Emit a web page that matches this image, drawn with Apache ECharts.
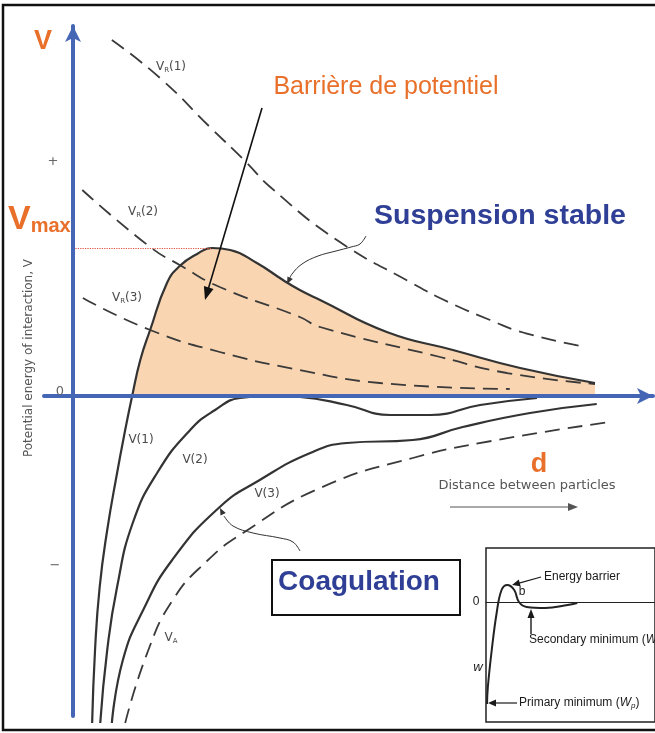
<!DOCTYPE html>
<html>
<head>
<meta charset="utf-8">
<script src="https://cdn.jsdelivr.net/npm/echarts@6/dist/echarts.min.js"></script>
<style>
  html, body { margin: 0; padding: 0; background: #fff; }
  #c { width: 655px; height: 733px; }
</style>
</head>
<body>
<div id="c"></div>
<script>
// DLVO interaction energy vs. particle separation.
// x = distance d (arbitrary units), y = potential energy V (arbitrary units)

// Repulsive terms V_R(1..3) (dashed)
const vR1 = [[6.7,35.6],[15.0,31.8],[23.6,26.9],[30.0,23.3],[34.0,20.9],[45.5,15.6],[58.4,11.3],[64.7,9.4],[71.9,7.6],[77.9,6.3],[88.3,4.9]];
const vR2 = [[1.6,20.6],[13.3,14.9],[18.4,13.1],[25.3,10.9],[39.1,7.9],[42.6,6.9],[63.3,3.9],[74.8,2.3],[90.0,1.2]];
const vR3 = [[1.7,9.8],[13.3,6.6],[25.3,4.4],[39.1,2.6],[52.9,1.3],[75.3,0.7]];

// Attractive term V_A (dashed)
const vA = [[9.0,-32.7],[12.8,-25.7],[17.2,-20.4],[23.1,-16.5],[29.3,-13.7],[42.6,-9.2],[58.6,-6.2],[73.1,-4.4],[92.6,-2.6]];

// Total energies V(1..3) (solid)
const v1 = [[3.3,-32.7],[3.8,-25.4],[4.6,-19.1],[5.9,-13.4],[7.6,-7.7],[9.0,-3.4],[10.2,0],[11.6,3.6],[13.3,6.6],[16.2,11.3],[18.4,13.0],[21.4,14.2],[24.0,14.8],[27.1,14.6],[31.7,13.3],[36.2,11.6],[39.1,10.6],[42.6,9.6],[54.1,6.4],[65.5,4.6],[77.1,2.8],[90.0,1.3]];
const v2 = [[4.7,-32.7],[5.9,-25.4],[7.6,-19.1],[10.3,-12.7],[14.5,-7.7],[20.2,-3.4],[24.5,-1.4],[28.8,-0.2],[34.0,0],[39.1,-0.1],[47.2,-0.9],[54.7,-1.9],[61.6,-1.9],[70.2,-0.9],[80.0,-0.2]];
const v3 = [[6.7,-32.7],[8.6,-26.4],[12.1,-21.4],[17.1,-16.4],[25.3,-11.1],[32.2,-8.4],[40.9,-5.7],[47.2,-4.7],[58.6,-4.4],[67.2,-3.1],[78.8,-1.7],[90.3,-0.8]];

// Sign marks on the energy axis
const yTickValues = [23.4, 0, -17];
const yTickText = ['+', '0', '\u2212'];

// Inset: energy w vs. separation, showing barrier and minima
const wCurve = [[0.6,-10.2],[1.1,-8.5],[3.4,-4.8],[6.3,-1.1],[9.2,1.2],[12.6,1.7],[16.7,1.2],[19.5,0],[24.1,-0.5],[35.1,-0.6],[48.3,-0.3],[54.0,-0.1]];

// Height of the energy barrier of V(1)
const peak = v1.reduce((a, b) => (b[1] > a[1] ? b : a));
const vMax = peak[1];

const ORANGE = '#e8702a';
const BLUE_TXT = '#2f3f96';
const AXIS_BLUE = '#4566b4';
const GREY = '#4a4a4a';

const chart = echarts.init(document.getElementById('c'), null, { renderer: 'canvas' });

function curve(name, data, dashed) {
  return {
    type: 'line', name, data,
    xAxisIndex: 0, yAxisIndex: 0,
    smooth: 0.5,
    symbol: 'none', clip: false, silent: true, z: 3,
    lineStyle: {
      color: dashed ? '#3a3a3a' : '#333',
      width: dashed ? 1.8 : 2.2,
      type: dashed ? [15, 8] : 'solid'
    }
  };
}

const hiddenAxisParts = {
  axisTick: { show: false }, axisLabel: { show: false }, splitLine: { show: false }
};

chart.setOption({
  animation: false,
  backgroundColor: '#fff',
  grid: [
    { left: 44, top: 26, width: 609, height: 690 },
    { left: 486, top: 548, width: 174, height: 174, show: true,
      borderColor: '#222', borderWidth: 1.5, backgroundColor: '#fff' }
  ],
  xAxis: [
    Object.assign({ type: 'value', gridIndex: 0, min: -5, max: 100, z: 10,
      axisLine: { onZero: true, symbol: ['none', 'arrow'], symbolSize: [12, 16],
        lineStyle: { color: AXIS_BLUE, width: 4 } } }, hiddenAxisParts),
    Object.assign({ type: 'value', gridIndex: 1, min: 0, max: 100, z: 10,
      axisLine: { onZero: true, lineStyle: { color: '#222', width: 1.2 } } }, hiddenAxisParts)
  ],
  yAxis: [
    Object.assign({ type: 'value', gridIndex: 0, min: -32, max: 37, z: 10,
      axisLine: { onZero: true, symbol: ['none', 'arrow'], symbolSize: [12, 16],
        lineStyle: { color: AXIS_BLUE, width: 4 } } }, hiddenAxisParts),
    Object.assign({ type: 'value', gridIndex: 1, min: -12, max: 5.4,
      axisLine: { show: false } }, hiddenAxisParts)
  ],
  series: [
    {
      // energy barrier region under the positive part of V(1)
      type: 'line', name: 'barrier', data: v1.filter(p => p[1] >= 0),
      xAxisIndex: 0, yAxisIndex: 0, smooth: 0.5,
      symbol: 'none', silent: true, z: 1,
      lineStyle: { width: 0 },
      areaStyle: { color: '#f9d5b1', opacity: 1 },
      markLine: {
        silent: true, symbol: 'none', label: { show: false },
        lineStyle: { type: 'dotted', color: '#e0503c', width: 1.2 },
        data: [[{ coord: [0, vMax] }, { coord: [peak[0], vMax] }]]
      }
    },
    curve('VR1', vR1, true),
    curve('VR2', vR2, true),
    curve('VR3', vR3, true),
    curve('VA', vA, true),
    curve('V1', v1, false),
    curve('V2', v2, false),
    curve('V3', v3, false),
    {
      type: 'line', name: 'w', data: wCurve, xAxisIndex: 1, yAxisIndex: 1,
      smooth: 0.4, symbol: 'none', silent: true, z: 3,
      lineStyle: { color: '#222', width: 2 }
    }
  ]
});

// ---- annotation helpers ----
function arrowHead(x1, y1, x2, y2, len, half, color) {
  const dx = x2 - x1, dy = y2 - y1, L = Math.hypot(dx, dy);
  const ux = dx / L, uy = dy / L, nx = -uy, ny = ux;
  const bx = x2 - ux * len, by = y2 - uy * len;
  return { type: 'polygon', silent: true, z: 100,
    shape: { points: [[x2, y2], [bx + nx * half, by + ny * half], [bx - nx * half, by - ny * half]] },
    style: { fill: color } };
}
function arrow(x1, y1, x2, y2, color, width, len, half) {
  const dx = x2 - x1, dy = y2 - y1, L = Math.hypot(dx, dy);
  const ex = x2 - dx / L * len * 0.8, ey = y2 - dy / L * len * 0.8;
  return [
    { type: 'line', silent: true, z: 100, shape: { x1, y1, x2: ex, y2: ey },
      style: { stroke: color, lineWidth: width } },
    arrowHead(x1, y1, x2, y2, len, half, color)
  ];
}
function txt(x, y, text, font, fill, align, extra) {
  return Object.assign({ type: 'text', x, y, silent: true, z: 100,
    style: Object.assign({ text, font, fill, align: align || 'center', verticalAlign: 'middle' }, extra || {}) });
}
function subLabel(x, y, sub, tail) {
  return txt(x, y, '{v|V}{s|' + sub + '}{p|' + tail + '}', null, GREY, 'center', {
    rich: {
      v: { fontSize: 12, fontFamily: 'DejaVu Sans', fill: GREY },
      s: { fontSize: 7, fontFamily: 'DejaVu Sans', fill: GREY, padding: [6, 0, 0, 0] },
      p: { fontSize: 12, fontFamily: 'DejaVu Sans', fill: GREY }
    }
  });
}

const g = [];

// outer frame
g.push({ type: 'rect', silent: true, z: 99, shape: { x: 3, y: 5, width: 700, height: 725 },
  style: { fill: 'none', stroke: '#111', lineWidth: 2.5 } });

// axis sign marks, placed through the energy scale
const tickX = [53, 60, 55];
yTickValues.forEach((v, i) => {
  const py = chart.convertToPixel({ yAxisIndex: 0 }, v);
  g.push(txt(tickX[i], py - (v === 0 ? 4 : 0), yTickText[i], '13px DejaVu Sans', '#666'));
});

// axis titles
g.push(txt(43, 42, 'V', 'bold 27px Liberation Sans', ORANGE));
g.push(txt(8, 220, '{a|V}{b|max}', null, ORANGE, 'left', {
  rich: {
    a: { fontSize: 34, fontWeight: 'bold', fontFamily: 'Liberation Sans', fill: ORANGE },
    b: { fontSize: 20, fontWeight: 'bold', fontFamily: 'Liberation Sans', fill: ORANGE, padding: [12, 0, 0, 0] }
  }
}));
g.push({ type: 'text', x: 29, y: 358, rotation: Math.PI / 2, silent: true, z: 100,
  style: { text: 'Potential energy of interaction, V', font: '12px DejaVu Sans', fill: '#555',
    align: 'center', verticalAlign: 'middle' } });
g.push(txt(539, 465, 'd', 'bold 27px Liberation Sans', ORANGE));
g.push(txt(527, 486, 'Distance between particles', '13px DejaVu Sans', '#555'));
g.push(...arrow(450, 507, 578, 507, '#555', 1.2, 10, 4));

// curve labels
g.push(subLabel(171, 67, 'R', '(1)'));
g.push(subLabel(143, 212, 'R', '(2)'));
g.push(subLabel(127, 298, 'R', '(3)'));
g.push(txt(141, 440, 'V(1)', '12px DejaVu Sans', GREY));
g.push(txt(195, 460, 'V(2)', '12px DejaVu Sans', GREY));
g.push(txt(267, 494, 'V(3)', '12px DejaVu Sans', GREY));
g.push(subLabel(171, 638, 'A', ''));

// potential barrier callout
g.push(txt(386, 87, 'Barri\u00e8re de potentiel', '25px Liberation Sans', ORANGE));
g.push(...arrow(262, 108, 205, 300, '#111', 1.6, 13, 5));

// stable suspension callout
g.push(txt(500, 216, 'Suspension stable', 'bold 28.5px Liberation Sans', BLUE_TXT));
g.push({ type: 'polyline', silent: true, z: 100,
  shape: { points: [[366, 236], [360, 244], [351, 247], [336, 251], [318, 256], [302, 264], [292, 274], [289, 280]], smooth: 0.4 },
  style: { stroke: '#333', lineWidth: 1, fill: 'none' } });
g.push(arrowHead(291, 276, 287, 284, 7, 3, '#333'));

// coagulation callout
g.push({ type: 'rect', silent: true, z: 100, shape: { x: 272, y: 560, width: 188, height: 55 },
  style: { fill: '#fff', stroke: '#111', lineWidth: 2 } });
g.push(txt(359, 582, 'Coagulation', 'bold 28px Liberation Sans', BLUE_TXT));
g.push({ type: 'polyline', silent: true, z: 100,
  shape: { points: [[300, 551], [293, 542], [280, 538], [253, 533], [233, 526], [224, 516]], smooth: 0.4 },
  style: { stroke: '#333', lineWidth: 1, fill: 'none' } });
g.push(arrowHead(225, 518, 220, 508, 7, 3, '#333'));

// inset annotations
const INK = '#1a1a1a';
g.push(txt(476, 602, '0', '12px Liberation Sans', INK));
g.push(txt(478, 667, 'w', 'italic 13px Liberation Sans', INK));
g.push(txt(544, 577, 'Energy barrier', '12px Liberation Sans', INK, 'left'));
g.push(...arrow(541, 577, 512, 585, INK, 1.2, 8, 3.5));
g.push(txt(522, 592, 'b', '12px Liberation Sans', INK));
g.push(...arrow(531, 634, 531, 609, INK, 1.4, 9, 3.5));
g.push(txt(529, 640, '{n|Secondary minimum (}{i|W}{s|s}', null, INK, 'left', {
  rich: {
    n: { fontSize: 12, fontFamily: 'Liberation Sans', fill: INK },
    i: { fontSize: 12, fontFamily: 'Liberation Sans', fontStyle: 'italic', fill: INK },
    s: { fontSize: 8, fontFamily: 'Liberation Sans', fontStyle: 'italic', fill: INK, padding: [6, 0, 0, 0] }
  }
}));
g.push(...arrow(517, 703, 488, 703, INK, 1.2, 8, 3.5));
g.push(txt(519, 703, '{n|Primary minimum (}{i|W}{s|p}{n|)}', null, INK, 'left', {
  rich: {
    n: { fontSize: 12, fontFamily: 'Liberation Sans', fill: INK },
    i: { fontSize: 12, fontFamily: 'Liberation Sans', fontStyle: 'italic', fill: INK },
    s: { fontSize: 8, fontFamily: 'Liberation Sans', fontStyle: 'italic', fill: INK, padding: [6, 0, 0, 0] }
  }
}));

chart.setOption({ graphic: { elements: g } });
</script>
</body>
</html>
